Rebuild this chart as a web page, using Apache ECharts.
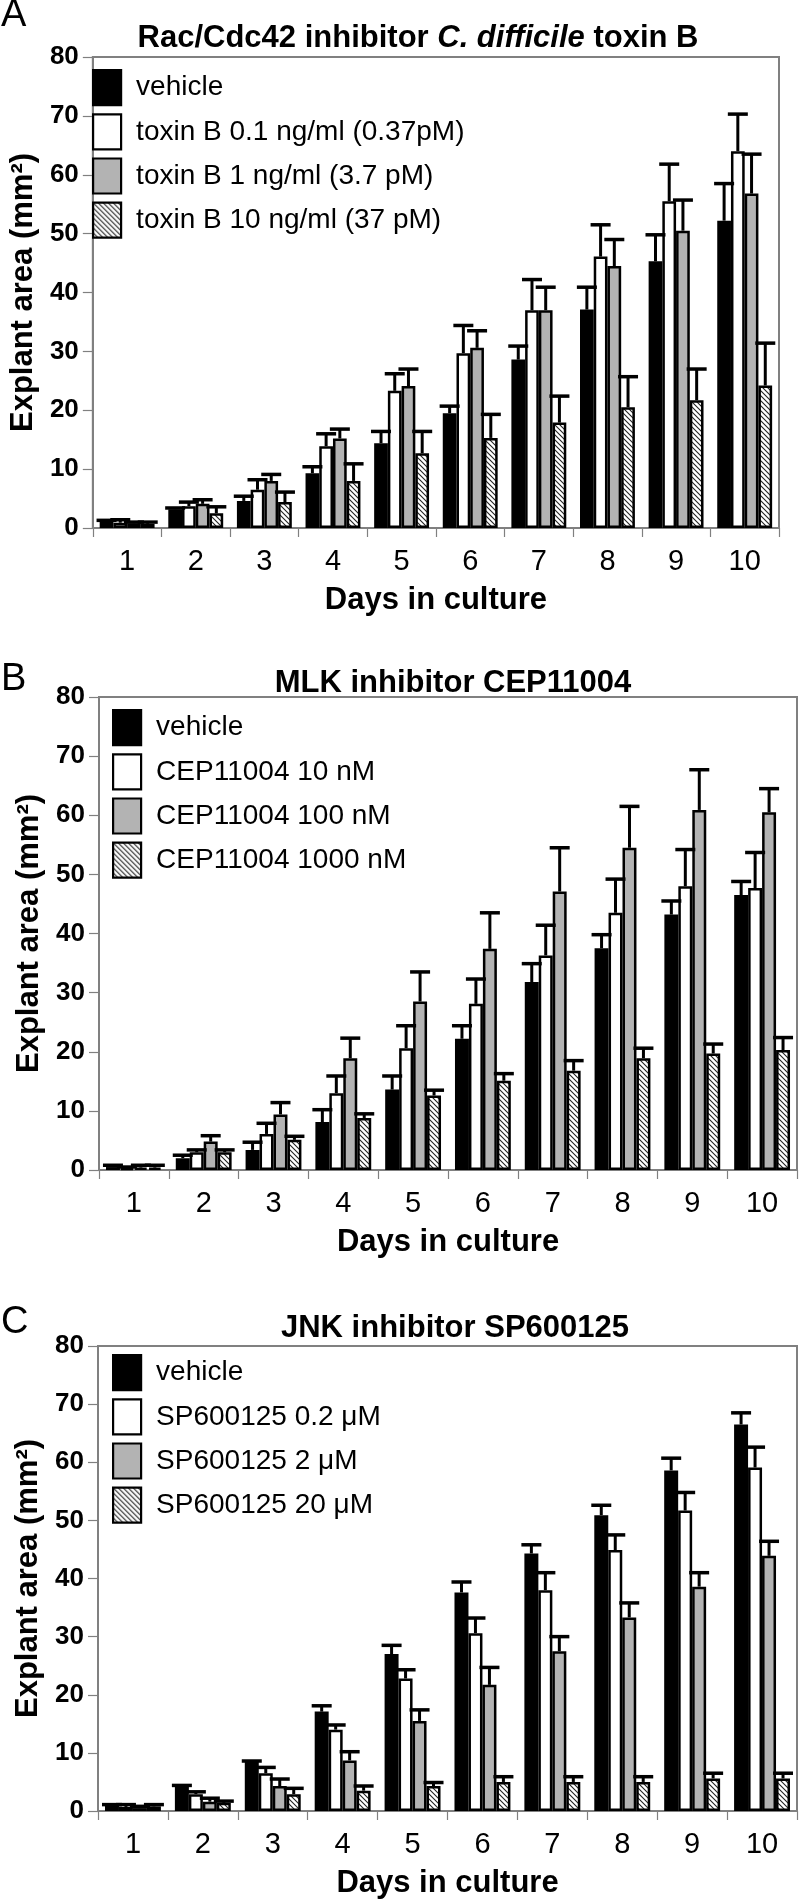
<!DOCTYPE html>
<html><head><meta charset="utf-8">
<script src="https://cdn.jsdelivr.net/npm/echarts@6/dist/echarts.min.js"></script>
<style>html,body{margin:0;padding:0;background:#fff}#c{width:800px;height:1902px}</style>
</head><body><div id="c"></div>
<script>
// ---------- DATA ----------
const days = ['1','2','3','4','5','6','7','8','9','10'];

const namesA = ['vehicle','toxin B 0.1 ng/ml (0.37pM)','toxin B 1 ng/ml (3.7 pM)','toxin B 10 ng/ml (37 pM)'];
const A_vehicle     = [1.0, 3.2, 4.6, 9.3, 14.4, 19.5, 28.6, 37.1, 45.3, 52.2];
const A_vehicle_err = [0.3, 0.2, 0.8, 1.1, 2.0, 1.2, 2.3, 3.8, 4.5, 6.3];
const A_tox01       = [0.9, 3.7, 6.5, 13.9, 23.3, 29.7, 37.0, 46.1, 55.5, 64.0];
const A_tox01_err   = [0.5, 0.7, 1.7, 2.1, 2.9, 4.7, 5.2, 5.4, 6.3, 6.3];
const A_tox1        = [0.8, 4.1, 8.0, 15.2, 24.1, 30.6, 37.0, 44.5, 50.5, 56.8];
const A_tox1_err    = [0.2, 0.7, 1.1, 1.6, 2.9, 2.9, 3.9, 4.5, 5.2, 6.7];
const A_tox10       = [0.7, 2.5, 4.4, 8.0, 12.7, 15.3, 17.9, 20.5, 21.7, 24.2];
const A_tox10_err   = [0.3, 1.1, 1.7, 2.9, 3.7, 4.0, 4.5, 5.2, 5.3, 7.2];

const namesB = ['vehicle','CEP11004 10 nM','CEP11004 100 nM','CEP11004 1000 nM'];
const B_vehicle     = [0.5, 2.0, 3.4, 8.1, 13.6, 22.2, 31.8, 37.5, 43.2, 46.5];
const B_vehicle_err = [0.3, 0.5, 1.3, 2.1, 2.3, 2.2, 3.1, 2.3, 2.3, 2.3];
const B_cep10       = [0.3, 3.0, 6.1, 13.0, 20.6, 28.1, 36.3, 43.5, 48.0, 47.7];
const B_cep10_err   = [0.2, 0.4, 1.8, 2.9, 3.8, 4.2, 5.1, 5.7, 6.2, 6.0];
const B_cep100      = [0.4, 4.8, 9.4, 18.9, 28.5, 37.4, 47.1, 54.5, 60.9, 60.5];
const B_cep100_err  = [0.4, 1.0, 2.0, 3.4, 5.0, 6.1, 7.4, 7.0, 6.8, 4.0];
const B_cep1000     = [0.4, 3.0, 5.1, 8.8, 12.6, 15.1, 16.8, 18.9, 19.7, 20.3];
const B_cep1000_err = [0.4, 0.4, 0.6, 0.7, 0.9, 1.2, 1.7, 1.7, 1.6, 2.1];

const namesC = ['vehicle','SP600125 0.2 \u03bcM','SP600125 2 \u03bcM','SP600125 20 \u03bcM'];
const C_vehicle     = [1.0, 4.3, 8.5, 17.1, 27.0, 37.6, 44.3, 50.9, 58.6, 66.5];
const C_vehicle_err = [0.1, 0.1, 0.1, 1.0, 1.5, 1.8, 1.5, 1.7, 2.1, 2.0];
const C_sp02        = [0.7, 2.9, 6.5, 14.0, 22.8, 30.6, 38.0, 44.9, 51.7, 59.1];
const C_sp02_err    = [0.4, 0.4, 1.0, 0.8, 1.5, 2.6, 3.0, 2.6, 3.1, 3.5];
const C_sp2         = [0.5, 1.6, 4.3, 8.7, 15.5, 21.7, 27.5, 33.3, 38.6, 43.9];
const C_sp2_err     = [0.3, 0.6, 1.2, 1.5, 1.9, 3.0, 2.5, 2.5, 2.4, 2.5];
const C_sp20        = [0.8, 1.4, 2.9, 3.5, 4.3, 5.0, 5.0, 5.0, 5.6, 5.6];
const C_sp20_err    = [0.3, 0.3, 1.0, 0.8, 0.6, 0.9, 0.9, 0.9, 0.9, 0.9];

const yName = 'Explant area (mm\u00b2)';
const xName = 'Days in culture';

// ---------- STYLE ----------
const FONT = 'Liberation Sans, Arial, Helvetica, sans-serif';
const GRAYFRAME = '#808080';
function hatchCanvas(){
  const s = 5, c = document.createElement('canvas'); c.width = s; c.height = s;
  const g = c.getContext('2d');
  g.fillStyle = '#fff'; g.fillRect(0,0,s,s);
  g.strokeStyle = '#222'; g.lineWidth = 1.1;
  g.beginPath(); g.moveTo(-1,-1); g.lineTo(s+1,s+1); g.stroke();
  g.beginPath(); g.moveTo(-1,s-1); g.lineTo(1,s+1); g.stroke();
  g.beginPath(); g.moveTo(s-1,-1); g.lineTo(s+1,1); g.stroke();
  return c;
}
const fills = ['#000000', '#ffffff', '#b3b3b3', {image: hatchCanvas(), repeat: 'repeat'}];

const panels = [
  {names: namesA, vals: [A_vehicle, A_tox01, A_tox1, A_tox10], errs: [A_vehicle_err, A_tox01_err, A_tox1_err, A_tox10_err],
   grid: {left: 78, top: 57, width: 701, height: 471}, legend: {left: 87, top: 64, pad: 10},
   title: {x: 413, y: 18}, letter: {t: 'A', y: 16}},
  {names: namesB, vals: [B_vehicle, B_cep10, B_cep100, B_cep1000], errs: [B_vehicle_err, B_cep10_err, B_cep100_err, B_cep1000_err],
   grid: {left: 99, top: 697, width: 698, height: 473}, legend: {left: 107, top: 704, pad: 10},
   title: {x: 448, y: 663}, letter: {t: 'B', y: 680}},
  {names: namesC, vals: [C_vehicle, C_sp02, C_sp2, C_sp20], errs: [C_vehicle_err, C_sp02_err, C_sp2_err, C_sp20_err],
   grid: {left: 98, top: 1346, width: 699, height: 465}, legend: {left: 107, top: 1349, pad: 10},
   title: {x: 450, y: 1308}, letter: {t: 'C', y: 1323}}
];
const titleTexts = [
  '{b|Rac/Cdc42 inhibitor }{i|C. difficile}{b| toxin B}',
  '{b|MLK inhibitor CEP11004}',
  '{b|JNK inhibitor SP600125}'
];

const grids = [], xAxes = [], yAxes = [], legends = [], series = [], titles = [], graphics = [];
panels.forEach((p, pi) => {
  grids.push(Object.assign({show: true, borderColor: GRAYFRAME, borderWidth: 2, backgroundColor: 'transparent'}, p.grid));
  xAxes.push({
    type: 'category', gridIndex: pi, data: days, boundaryGap: true,
    axisLine: {lineStyle: {color: GRAYFRAME, width: 2}},
    axisTick: {show: true, length: 9, lineStyle: {color: GRAYFRAME, width: 1.2}},
    axisLabel: {fontSize: 29, color: '#000', margin: 19, fontFamily: FONT},
    name: xName, nameLocation: 'middle', nameGap: 57,
    nameTextStyle: {fontSize: 31, fontWeight: 'bold', color: '#000', fontFamily: FONT}
  });
  yAxes.push({
    type: 'value', gridIndex: pi, min: 0, max: 80, interval: 10,
    axisLine: {show: true, lineStyle: {color: GRAYFRAME, width: 2}},
    axisTick: {show: true, length: 10, lineStyle: {color: GRAYFRAME, width: 1.2}},
    splitLine: {show: false},
    axisLabel: {fontSize: 26, fontWeight: 'bold', color: '#000', margin: 14, fontFamily: FONT},
    name: yName, nameLocation: 'middle', nameGap: 45,
    nameTextStyle: {fontSize: 31, fontWeight: 'bold', color: '#000', fontFamily: FONT}
  });
  legends.push({
    orient: 'vertical', left: p.legend.left, top: p.legend.top,
    itemWidth: 28, itemHeight: 35, itemGap: 7, icon: 'rect', selectedMode: false,
    data: p.names,
    itemStyle: {borderColor: '#000', borderWidth: 2.2},
    textStyle: {fontSize: 28, color: '#000', fontFamily: FONT, padding: [0, 0, 0, p.legend.pad]}
  });
  titles.push({
    text: titleTexts[pi], left: p.title.x, top: p.title.y, textAlign: 'center',
    textStyle: {fontFamily: FONT, rich: {
      b: {fontSize: 31, fontWeight: 'bold', color: '#000', fontFamily: FONT},
      i: {fontSize: 31, fontWeight: 'bold', fontStyle: 'italic', color: '#000', fontFamily: FONT}
    }}
  });
  graphics.push({type: 'text', left: 1, top: p.letter.y - 19,
    style: {text: p.letter.t, fontSize: 38, fill: '#000', fontFamily: FONT}});
  p.vals.forEach((v, si) => {
    series.push({
      type: 'bar', name: p.names[si], xAxisIndex: pi, yAxisIndex: pi, data: v,
      barGap: '0%', barCategoryGap: '20%',
      itemStyle: {color: fills[si], borderColor: '#000', borderWidth: 2.5},
      emphasis: {disabled: true}, z: 2
    });
  });
  const errData = [];
  p.vals.forEach((v, si) => v.forEach((val, d) => errData.push([d, si, val, p.errs[si][d]])));
  series.push({
    type: 'custom', xAxisIndex: pi, yAxisIndex: pi, z: 5, data: errData,
    encode: {x: 0, y: 2},
    renderItem: function (params, api) {
      const d = api.value(0), si = api.value(1), v = api.value(2), e = api.value(3);
      const band = api.size([1, 0])[0];
      const bw = band * 0.8 / 4;
      const base = api.coord([d, v]);
      const top = api.coord([d, v + e]);
      const x = base[0] + (-1.5 + si) * bw;
      const cw = 10;
      return {type: 'group', children: [
        {type: 'line', shape: {x1: x, y1: base[1], x2: x, y2: top[1]}, style: {stroke: '#000', lineWidth: 3}},
        {type: 'line', shape: {x1: x - cw, y1: top[1], x2: x + cw, y2: top[1]}, style: {stroke: '#000', lineWidth: 3.5}}
      ]};
    }
  });
});

const chart = echarts.init(document.getElementById('c'), null, {renderer: 'canvas'});
chart.setOption({
  animation: false,
  backgroundColor: '#ffffff',
  textStyle: {fontFamily: FONT},
  title: titles,
  grid: grids,
  xAxis: xAxes,
  yAxis: yAxes,
  legend: legends,
  series: series,
  graphic: graphics
});
</script>
</body></html>
